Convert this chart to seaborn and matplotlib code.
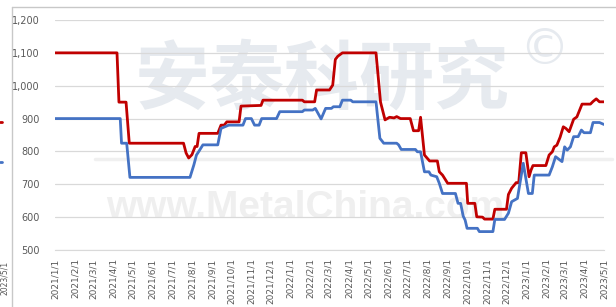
import pandas as pd
import matplotlib.pyplot as plt
from matplotlib.lines import Line2D
import seaborn as sns

# price series (breakpoints)
red_dates = ['2021-01-01', '2021-04-07', '2021-04-10', '2021-04-21', '2021-04-26',
             '2021-07-19', '2021-07-23', '2021-07-27', '2021-08-01', '2021-08-06',
             '2021-08-09', '2021-08-12', '2021-09-10', '2021-09-15', '2021-09-20',
             '2021-09-24', '2021-10-13', '2021-10-16', '2021-11-16', '2021-11-19',
             '2022-01-19', '2022-01-22', '2022-02-07', '2022-02-10', '2022-03-02',
             '2022-03-07', '2022-03-11', '2022-03-15', '2022-03-22', '2022-05-13',
             '2022-05-20', '2022-05-27', '2022-06-03', '2022-06-10', '2022-06-14',
             '2022-06-20', '2022-07-05', '2022-07-10', '2022-07-18', '2022-07-21',
             '2022-07-27', '2022-08-04', '2022-08-16', '2022-08-19', '2022-08-24',
             '2022-09-01', '2022-09-30', '2022-10-02', '2022-10-13', '2022-10-16',
             '2022-10-25', '2022-10-28', '2022-11-10', '2022-11-13', '2022-12-01',
             '2022-12-04', '2022-12-09', '2022-12-16', '2022-12-20', '2022-12-24',
             '2022-12-31', '2023-01-05', '2023-01-08', '2023-01-11', '2023-01-31',
             '2023-02-05', '2023-02-10', '2023-02-13', '2023-02-17', '2023-02-22',
             '2023-02-27', '2023-03-03', '2023-03-08', '2023-03-15', '2023-03-20',
             '2023-03-28', '2023-04-10', '2023-04-14', '2023-04-19', '2023-04-24',
             '2023-05-01']
red_vals = [1100, 1100, 950, 950, 825,
            825, 795, 780, 790, 815,
            815, 855, 855, 880, 880,
            890, 890, 938, 940, 956,
            956, 951, 951, 987, 987,
            1002, 1080, 1090, 1100, 1100,
            950, 896, 904, 902, 906,
            900, 900, 863, 863, 904,
            789, 771, 771, 738, 728,
            703, 703, 642, 642, 601,
            600, 594, 594, 624, 624,
            669, 688, 705, 705, 796,
            796, 723, 743, 757, 757,
            789, 799, 814, 819, 843,
            875, 870, 860, 898, 905,
            944, 944, 952, 960, 951,
            951]

blue_dates = ['2021-01-01', '2021-04-12', '2021-04-14', '2021-04-22', '2021-04-27',
              '2021-07-29', '2021-08-04', '2021-08-08', '2021-08-12', '2021-08-18',
              '2021-09-10', '2021-09-15', '2021-09-27', '2021-10-19', '2021-10-23',
              '2021-11-01', '2021-11-06', '2021-11-13', '2021-11-17', '2021-12-10',
              '2021-12-15', '2022-01-19', '2022-01-22', '2022-02-04', '2022-02-08',
              '2022-02-17', '2022-02-24', '2022-03-05', '2022-03-08', '2022-03-18',
              '2022-03-22', '2022-04-04', '2022-04-07', '2022-05-13', '2022-05-19',
              '2022-05-25', '2022-06-14', '2022-06-17', '2022-06-21', '2022-07-13',
              '2022-07-16', '2022-07-21', '2022-07-27', '2022-08-03', '2022-08-06',
              '2022-08-15', '2022-08-19', '2022-08-24', '2022-09-13', '2022-09-17',
              '2022-09-21', '2022-09-25', '2022-09-28', '2022-10-01', '2022-10-17',
              '2022-10-20', '2022-11-10', '2022-11-13', '2022-11-28', '2022-12-04',
              '2022-12-09', '2022-12-18', '2022-12-27', '2023-01-04', '2023-01-10',
              '2023-01-13', '2023-02-05', '2023-02-10', '2023-02-15', '2023-02-25',
              '2023-03-01', '2023-03-05', '2023-03-10', '2023-03-15', '2023-03-22',
              '2023-03-27', '2023-03-31', '2023-04-10', '2023-04-14', '2023-04-24',
              '2023-05-01']
blue_vals = [900, 900, 825, 825, 721,
             721, 759, 789, 801, 820,
             820, 870, 880, 880, 900,
             900, 880, 880, 900, 900,
             921, 921, 926, 926, 931,
             899, 931, 931, 936, 936,
             956, 956, 951, 951, 840,
             825, 825, 820, 806, 806,
             799, 799, 738, 738, 728,
             723, 703, 672, 672, 642,
             642, 603, 591, 566, 566,
             556, 556, 593, 593, 612,
             647, 657, 764, 672, 672,
             728, 728, 753, 784, 769,
             814, 804, 814, 845, 845,
             865, 857, 857, 888, 888,
             882]

y_ticks = [500, 600, 700, 800, 900, 1000, 1100, 1200]
month_ticks = pd.date_range('2021-01-01', '2023-05-01', freq='MS')

df = pd.concat([
    pd.DataFrame({'date': pd.to_datetime(red_dates), 'price': red_vals, 'series': 'red'}),
    pd.DataFrame({'date': pd.to_datetime(blue_dates), 'price': blue_vals, 'series': 'blue'}),
])

sns.set_style('white')
plt.rcParams['font.family'] = ['DejaVu Sans']

W, H = 616, 307
fig = plt.figure(figsize=(W / 100, H / 100), dpi=100)
ax = fig.add_axes([55 / W, 1 - 250 / H, (604 - 55) / W, 230 / H])
ax.set_zorder(2)
ax.patch.set_alpha(0)

# watermarks, drawn underneath the axes
fig.text(322 / W, 1 - 80 / H, '安泰科研究', family=['Noto Sans CJK SC', 'DejaVu Sans'],
         fontsize=54, fontweight='bold', color='#e6eaef', ha='center', va='center', zorder=0)
fig.text(544 / W, 1 - 50 / H, '©', fontsize=36, color='#e6eaef', ha='center', va='center', zorder=0)
fig.text(305 / W, 1 - 208 / H, 'www.MetalChina.com', family='Liberation Sans',
         fontsize=28, fontweight='bold', color='#efefef', ha='center', va='center', zorder=0)
fig.add_artist(Line2D([95 / W, 612 / W], [1 - 159 / H] * 2, color='#f0f0f0', lw=2.5, zorder=0))

sns.lineplot(data=df, x='date', y='price', hue='series', palette={'red': '#c00000', 'blue': '#4472c4'},
             linewidth=2.0, legend=False, ax=ax, zorder=3)

ax.set_xlim(month_ticks[0], month_ticks[-1])
ax.set_ylim(500, 1200)
ax.set_yticks(y_ticks)
ax.set_yticklabels([f'{v:,}' for v in y_ticks])
ax.set_xticks(month_ticks)
ax.set_xticklabels([f'{d.year}/{d.month}/1' for d in month_ticks], rotation=90)
ax.grid(axis='y', color='#d9d9d9', lw=0.9)
ax.set_axisbelow(True)
for s in ['top', 'right', 'left']:
    ax.spines[s].set_visible(False)
ax.spines['bottom'].set_color('#d9d9d9')
ax.tick_params(axis='y', length=0, pad=11, labelsize=7, labelcolor='#595959')
ax.tick_params(axis='x', length=4, width=0.8, color='#d9d9d9', pad=2, labelsize=6.5, labelcolor='#595959')
ax.set_xlabel('')
ax.set_ylabel('')

# chart frame and the neighbour chart at the left edge
fig.add_artist(Line2D([12 / W, 12 / W], [0, 1 - 7 / H], color='#c8c8c8', lw=1))
fig.add_artist(Line2D([12 / W, 1], [1 - 7 / H] * 2, color='#c8c8c8', lw=1))
fig.add_artist(Line2D([0, 2 / W], [1 - 122 / H] * 2, color='#c00000', lw=2))
fig.add_artist(Line2D([0, 2 / W], [1 - 162 / H] * 2, color='#4472c4', lw=2))
fig.text(0.5 / W, 1 - 278 / H, '2023/5/1', rotation=90, fontsize=5.5, color='#595959',
         ha='left', va='center')

fig.savefig('out.png', dpi=100)
